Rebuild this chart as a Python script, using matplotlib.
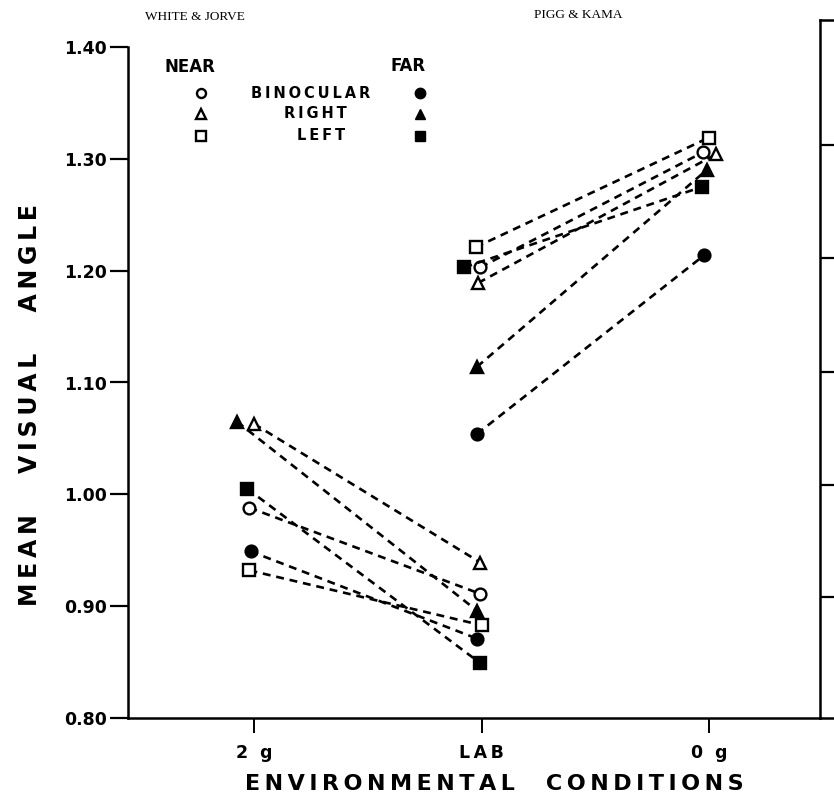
import numpy as np
import matplotlib
matplotlib.use("Agg")
import matplotlib.pyplot as plt

# environmental conditions along the x axis
conditions = ["2 g", "LAB", "0 g"]
yticks = [0.80, 0.90, 1.00, 1.10, 1.20, 1.30, 1.40]

# White & Jorve: 2 g -> LAB
wj_near_binocular = [0.988, 0.911]
wj_near_right = [1.063, 0.939]
wj_near_left = [0.932, 0.883]
wj_far_binocular = [0.949, 0.871]
wj_far_right = [1.065, 0.896]
wj_far_left = [1.005, 0.849]

# Pigg & Kama: LAB -> 0 g
pk_near_binocular = [1.203, 1.306]
pk_near_right = [1.189, 1.304]
pk_near_left = [1.221, 1.319]
pk_far_binocular = [1.054, 1.214]
pk_far_right = [1.114, 1.290]
pk_far_left = [1.203, 1.275]


def spaced(s, sep="   "):
    # widen lettering the way the hand-lettered original is
    return sep.join("\u2009".join(w) for w in s.split())


fig = plt.figure(figsize=(8.34, 8.05), dpi=100)
ax = fig.add_axes([128 / 834, 87 / 805, 692 / 834, 671 / 805])

# small horizontal nudges so overlapping symbols stay visible
nudge = {
    "wj": {"nb": (-0.02, -0.005), "nr": (0.0, -0.005), "nl": (-0.02, 0.0),
           "fb": (-0.015, -0.02), "fr": (-0.075, -0.02), "fl": (-0.03, -0.005)},
    "pk": {"nb": (-0.005, -0.025), "nr": (-0.015, 0.03), "nl": (-0.025, 0.0),
           "fb": (-0.02, -0.02), "fr": (-0.02, -0.01), "fl": (-0.075, -0.03)},
}
style = {
    "nb": dict(marker="o", mfc="white"), "nr": dict(marker="^", mfc="white"),
    "nl": dict(marker="s", mfc="white"), "fb": dict(marker="o", mfc="black"),
    "fr": dict(marker="^", mfc="black"), "fl": dict(marker="s", mfc="black"),
}
groups = {
    "wj": ([0, 1], {"nb": wj_near_binocular, "nr": wj_near_right, "nl": wj_near_left,
                    "fb": wj_far_binocular, "fr": wj_far_right, "fl": wj_far_left}),
    "pk": ([1, 2], {"nb": pk_near_binocular, "nr": pk_near_right, "nl": pk_near_left,
                    "fb": pk_far_binocular, "fr": pk_far_right, "fl": pk_far_left}),
}
for g, (xs, series) in groups.items():
    for k, vals in series.items():
        x = np.array(xs, float) + np.array(nudge[g][k])
        ax.plot(x, vals, ls=(0, (3.0, 2.2)), color="black", lw=1.9,
                ms=8.5, mec="black", mew=1.7, **style[k], zorder=3)

ax.set_xlim(-0.554, 2.488)
ax.set_ylim(0.80, 1.40)
ax.set_xticks(range(len(conditions)))
ax.set_xticklabels([spaced(c, "  ") for c in conditions], fontsize=12.5,
                   fontweight="bold")
ax.set_yticks(yticks)
ax.set_yticklabels(["%.2f" % v for v in yticks], fontsize=12.5, fontweight="bold")
ax.tick_params(axis="y", direction="out", length=13, width=1.6, pad=2)
ax.tick_params(axis="x", direction="out", length=11, width=1.4, pad=8)
for s in ["top", "right"]:
    ax.spines[s].set_visible(False)
for s in ["left", "bottom"]:
    ax.spines[s].set_linewidth(1.8)

ax.set_ylabel(spaced("MEAN VISUAL ANGLE", "     "), fontsize=17, fontweight="bold")
ax.yaxis.set_label_coords(-0.124, 0.466)
ax.set_xlabel(spaced("ENVIRONMENTAL CONDITIONS", "    "), fontsize=16,
              fontweight="bold")
ax.xaxis.set_label_coords(0.529, -0.083)

# edge of the neighbouring panel on the right
nb = fig.add_axes([820 / 834, 87 / 805, 0.2, 698 / 805])
nb.set_xlim(0, 1)
nb.set_ylim(0, 1)
nb.set_xticks([])
nb.set_yticks([0.173, 0.334, 0.496, 0.659, 0.821])
nb.set_yticklabels([])
nb.tick_params(axis="y", direction="in", length=16, width=1.6)
nb.spines["right"].set_visible(False)
for s in ["left", "bottom", "top"]:
    nb.spines[s].set_linewidth(1.8)
nb.patch.set_alpha(0)

# study headers
fig.text(195 / 834, 1 - 17 / 805, "WHITE & JORVE", family="Liberation Serif",
         fontsize=9.5, ha="center", va="center")
fig.text(578 / 834, 1 - 15 / 805, "PIGG & KAMA", family="Liberation Serif",
         fontsize=9.5, ha="center", va="center")


# key
def fx(px):
    return (px - 128) / 692


def fy(py):
    return (718 - py) / 671


ax.text(fx(190), fy(67), "NEAR", transform=ax.transAxes, fontsize=12,
        fontweight="bold", ha="center", va="center")
ax.text(fx(408), fy(66), "FAR", transform=ax.transAxes, fontsize=12,
        fontweight="bold", ha="center", va="center")
key_rows = [("BINOCULAR", "o", 93, 311), ("RIGHT", "^", 114, 315), ("LEFT", "s", 136, 321)]
for label, m, py, tx in key_rows:
    ax.text(fx(tx), fy(py), spaced(label), transform=ax.transAxes, fontsize=10.5,
            fontweight="bold", ha="center", va="center")
    ax.plot([fx(201)], [fy(py)], marker=m, ms=6.5, mfc="white", mec="black",
            mew=1.7, transform=ax.transAxes, clip_on=False)
    ax.plot([fx(420)], [fy(py)], marker=m, ms=7.5, mfc="black", mec="black",
            transform=ax.transAxes, clip_on=False)

fig.savefig("out.png", dpi=100)
